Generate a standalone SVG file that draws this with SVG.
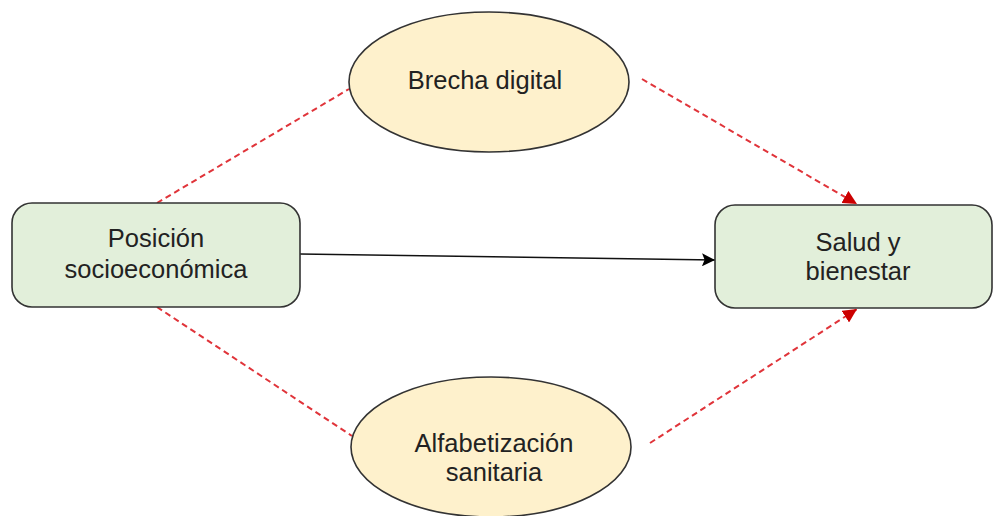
<svg xmlns="http://www.w3.org/2000/svg" width="994" height="516" viewBox="0 0 994 516">
<style>
.box{fill:#e2efda;stroke:#333;stroke-width:1.6}
.ell{fill:#fef1cc;stroke:#333;stroke-width:1.6}
.lbl{font-family:"Liberation Sans",Arial,sans-serif;font-size:25.5px;fill:#222;text-anchor:middle}
.dash{fill:none;stroke:#e0343a;stroke-width:2;stroke-dasharray:6 4}
.solid{fill:none;stroke:#111;stroke-width:1.5}
</style>
<defs>
<marker id="ar" viewBox="0 0 10 10" refX="10" refY="5" markerWidth="14" markerHeight="14" markerUnits="userSpaceOnUse" orient="auto"><path d="M0,0 L10,5 L0,10 z" fill="#cc0000"/></marker>
<marker id="ab" viewBox="0 0 10 10" refX="10" refY="5" markerWidth="13" markerHeight="13" markerUnits="userSpaceOnUse" orient="auto"><path d="M0,0 L10,5 L0,10 L2,5 z" fill="#000"/></marker>
</defs>
<g id="connectors">
<line class="dash" x1="157" y1="203" x2="349" y2="89"/>
<line class="dash" x1="642" y1="79" x2="857" y2="204" marker-end="url(#ar)"/>
<line class="dash" x1="157" y1="307" x2="352" y2="436"/>
<line class="dash" x1="650" y1="443" x2="857" y2="309" marker-end="url(#ar)"/>
<line class="solid" x1="300" y1="254" x2="715" y2="260" marker-end="url(#ab)"/>
</g>
<g id="posicion">
<rect class="box" x="12" y="203" width="288" height="104" rx="20"/>
<text class="lbl" x="156" y="247">Posición</text>
<text class="lbl" x="156" y="278">socioeconómica</text>
</g>
<g id="salud">
<rect class="box" x="715" y="205" width="277" height="103" rx="20"/>
<text class="lbl" x="858" y="251">Salud y</text>
<text class="lbl" x="858" y="280">bienestar</text>
</g>
<g id="brecha">
<ellipse class="ell" cx="489" cy="82" rx="140" ry="70"/>
<text class="lbl" x="485" y="89">Brecha digital</text>
</g>
<g id="alfabetizacion">
<ellipse class="ell" cx="491" cy="447" rx="140" ry="70"/>
<text class="lbl" x="494" y="452">Alfabetización</text>
<text class="lbl" x="494" y="481">sanitaria</text>
</g>
</svg>
